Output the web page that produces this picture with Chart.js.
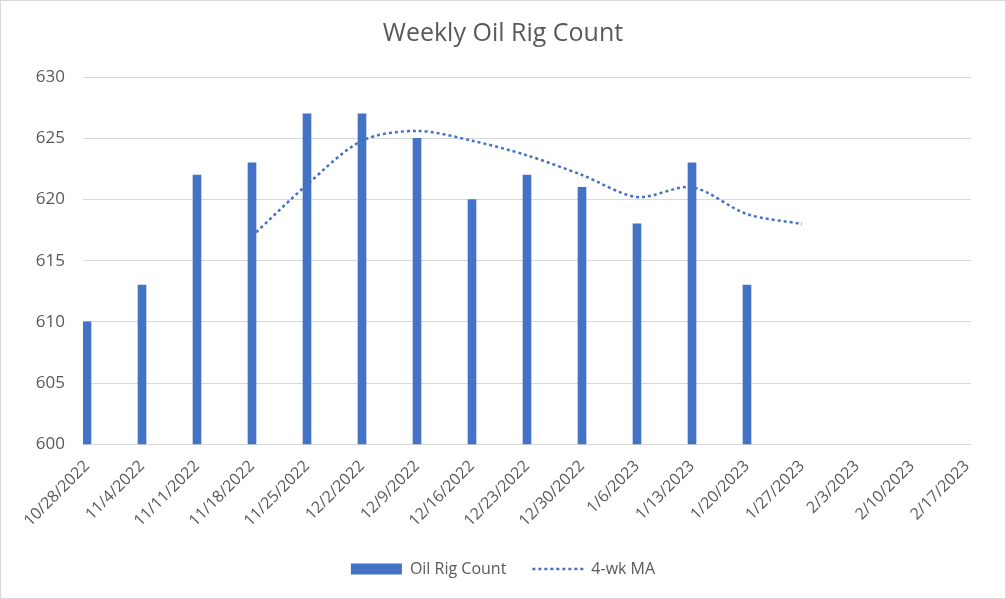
<!DOCTYPE html>
<html>
<head>
<meta charset="utf-8">
<title>Weekly Oil Rig Count</title>
<script src="https://cdn.jsdelivr.net/npm/chart.js@4.4.0/dist/chart.umd.min.js"></script>
<style>
  html, body { margin: 0; padding: 0; background: #fff; }
  #wrap {
    width: 1006px; height: 599px;
    box-sizing: border-box;
    border: 1px solid #d9d9d9;
  }
  canvas { display: block; }
</style>
</head>
<body>
<div id="wrap"><canvas id="rigChart" width="1004" height="597"></canvas></div>
<script>
// week labels along the x axis
const weekLabels = [
  "10/28/2022", "11/4/2022", "11/11/2022", "11/18/2022", "11/25/2022",
  "12/2/2022", "12/9/2022", "12/16/2022", "12/23/2022", "12/30/2022",
  "1/6/2023", "1/13/2023", "1/20/2023", "1/27/2023", "2/3/2023",
  "2/10/2023", "2/17/2023"
];

// weekly counts (bars)
const rigCounts = [610, 613, 622, 623, 627, 627, 625, 620, 622, 621, 618, 623, 613,
  null, null, null, null];

// 4-week moving average (dotted line)
const movingAvg = [null, null, null, 617, 621.2, 624.8, 625.6, 624.8, 623.6, 622,
  620.2, 621, 618.8, 618, null, null, null];

const yTicks = [600, 605, 610, 615, 620, 625, 630];

const textColor = "#595959";
const gridColor = "#d9d9d9";
const barColor = "#4472c4";

Chart.defaults.font.family = "'Open Sans', sans-serif";
Chart.defaults.color = textColor;

function toPoints(values) {
  return values.map((v, i) => ({ x: i, y: v }));
}

const ctx = document.getElementById("rigChart").getContext("2d");
new Chart(ctx, {
  type: "bar",
  data: {
    datasets: [
      {
        label: "Oil Rig Count",
        data: toPoints(rigCounts),
        backgroundColor: barColor,
        barThickness: 8,
        pointStyle: "rect",
        order: 2
      },
      {
        type: "line",
        label: "4-wk MA",
        data: toPoints(movingAvg),
        borderColor: barColor,
        backgroundColor: barColor,
        borderWidth: 2.5,
        borderDash: [3, 3],
        pointRadius: 0,
        pointStyle: "line",
        tension: 0.3,
        spanGaps: false,
        order: 1
      }
    ]
  },
  options: {
    responsive: false,
    animation: false,
    layout: { padding: { left: 0, right: 0, top: 0, bottom: 11 } },
    plugins: {
      title: {
        display: true,
        text: "Weekly Oil Rig Count",
        color: textColor,
        font: { size: 25, weight: "normal" },
        padding: { top: 18, bottom: 28 }
      },
      legend: {
        position: "bottom",
        labels: {
          color: textColor,
          font: { size: 16 },
          usePointStyle: true,
          pointStyleWidth: 51,
          boxHeight: 11,
          padding: 26,
          sort: (a, b) => a.datasetIndex - b.datasetIndex,
          generateLabels: chart => {
            const items = Chart.defaults.plugins.legend.labels.generateLabels(chart);
            items.forEach(it => {
              const ds = chart.data.datasets[it.datasetIndex];
              if (ds.type === "line") {
                it.lineDash = ds.borderDash;
                it.lineWidth = ds.borderWidth;
                it.strokeStyle = ds.borderColor;
              }
            });
            return items;
          }
        }
      },
      tooltip: { enabled: false }
    },
    scales: {
      x: {
        type: "linear",
        offset: false,
        min: -0.0727,
        max: weekLabels.length - 1 + 0.0727,
        afterFit: scale => { scale.paddingLeft = 0; scale.paddingRight = 0; },
        grid: { display: false },
        border: { display: false },
        ticks: {
          stepSize: 1,
          includeBounds: false,
          autoSkip: false,
          minRotation: 45,
          maxRotation: 45,
          padding: 4.5,
          color: textColor,
          font: { size: 16 },
          callback: v => weekLabels[v]
        }
      },
      y: {
        min: yTicks[0],
        max: yTicks[yTicks.length - 1],
        afterFit: scale => { scale.width = 82; },
        afterBuildTicks: scale => { scale.ticks = yTicks.map(v => ({ value: v })); },
        grid: { color: gridColor, lineWidth: 1, drawTicks: false },
        border: { display: false },
        ticks: {
          padding: 18,
          color: textColor,
          font: { size: 17 }
        }
      },
      // empty right-hand strip so the plot stops where the reference does
      yRight: {
        position: "right",
        afterFit: scale => { scale.width = 34; },
        grid: { display: false },
        border: { display: false },
        ticks: { display: false }
      }
    }
  }
});
</script>
</body>
</html>
